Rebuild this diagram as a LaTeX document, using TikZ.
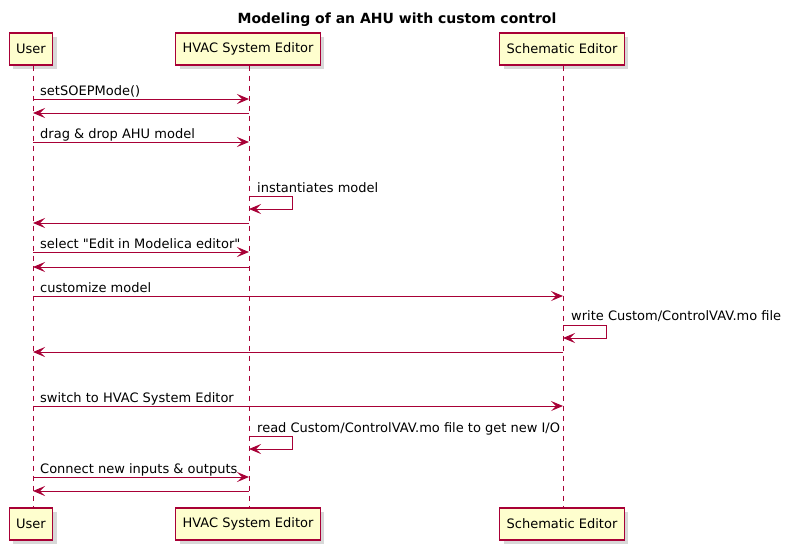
\documentclass[tikz,border=0pt]{standalone}
\usepackage{fontspec}
\setmainfont{DejaVu Sans}
\usetikzlibrary{arrows.meta,shadows}
\definecolor{umlred}{HTML}{A80036}
\definecolor{umlfill}{HTML}{FEFECE}
\begin{document}
\begin{tikzpicture}[x=1pt,y=-1pt,
  every node/.style={font=\fontsize{13}{15}\selectfont},
  actor/.style={draw=umlred,fill=umlfill,line width=1.3pt,minimum height=32pt,inner xsep=7pt,
    drop shadow={shadow xshift=4pt,shadow yshift=-4pt,fill=black!30}},
  life/.style={umlred,line width=0.8pt,dash pattern=on 5pt off 5pt},
  msg/.style={umlred,line width=1pt,-{Stealth[length=12pt,width=10pt,inset=5pt]}},
  lbl/.style={anchor=base west,inner sep=0pt}]
  \useasboundingbox (0,0) rectangle (789,550);
  \node[font=\fontsize{14}{16}\selectfont\bfseries,anchor=base] (title) at (397,23) {Modeling of an AHU with custom control};
  % participants
  \node[actor] (userT) at (31,49) {User};
  \node[actor] (hvacT) at (248,49) {HVAC System Editor};
  \node[actor] (schemT) at (562,49) {Schematic Editor};
  \node[actor] (userB) at (31,524) {User};
  \node[actor] (hvacB) at (248,524) {HVAC System Editor};
  \node[actor] (schemB) at (562,524) {Schematic Editor};
  \coordinate (uL) at ([xshift=2pt]userT.south);
  \coordinate (hL) at ([xshift=1pt]hvacT.south);
  \coordinate (sL) at ([xshift=1pt]schemT.south);
  \draw[life] (uL) -- (uL |- userB.north);
  \draw[life] (hL) -- (hL |- hvacB.north);
  \draw[life] (sL) -- (sL |- schemB.north);
  % messages
  \draw[msg] (uL |- 0,99) -- (hL |- 0,99);
  \node[lbl] (l1) at (40,95) {setSOEPMode()};
  \draw[msg] (hL |- 0,113) -- (uL |- 0,113);
  \draw[msg] (uL |- 0,142) -- (hL |- 0,142);
  \node[lbl] (l2) at (40,138) {drag \& drop AHU model};
  \draw[msg] (hL |- 0,196) -- ++(43,0) -- ++(0,13) -- (hL |- 0,209);
  \node[lbl] (l3) at (257,192) {instantiates model};
  \draw[msg] (hL |- 0,223) -- (uL |- 0,223);
  \draw[msg] (uL |- 0,252) -- (hL |- 0,252);
  \node[lbl] (l4) at (40,248) {select \textquotedbl Edit in Modelica editor\textquotedbl};
  \draw[msg] (hL |- 0,267) -- (uL |- 0,267);
  \draw[msg] (uL |- 0,296) -- (sL |- 0,296);
  \node[lbl] (l5) at (40,292) {customize model};
  \draw[msg] (sL |- 0,325) -- ++(43,0) -- ++(0,13) -- (sL |- 0,338);
  \node[lbl] (l6) at (571,320) {write Custom/ControlVAV.mo file};
  \draw[msg] (sL |- 0,352) -- (uL |- 0,352);
  \draw[msg] (uL |- 0,406) -- (sL |- 0,406);
  \node[lbl] (l7) at (40,402) {switch to HVAC System Editor};
  \draw[msg] (hL |- 0,436) -- ++(43,0) -- ++(0,13) -- (hL |- 0,449);
  \node[lbl] (l8) at (257,432) {read Custom/ControlVAV.mo file to get new I/O};
  \draw[msg] (uL |- 0,477) -- (hL |- 0,477);
  \node[lbl] (l9) at (40,473) {Connect new inputs \& outputs};
  \draw[msg] (hL |- 0,491) -- (uL |- 0,491);
\end{tikzpicture}
\end{document}
